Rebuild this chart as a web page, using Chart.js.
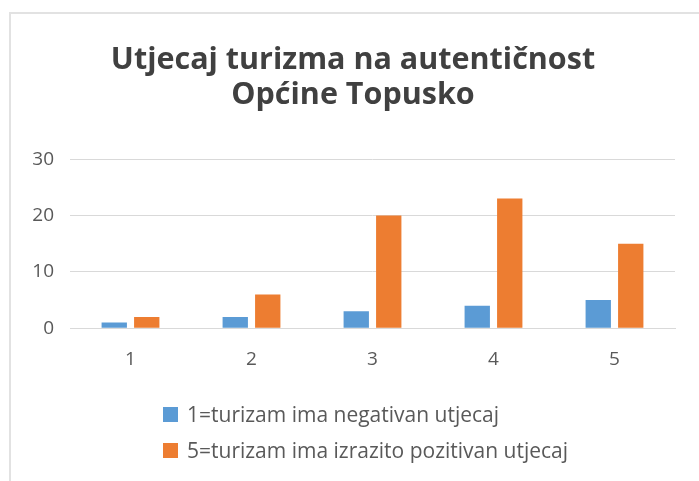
<!DOCTYPE html>
<html>
<head>
<meta charset="utf-8">
<script src="https://cdn.jsdelivr.net/npm/chart.js@4"></script>
<style>
    body { margin: 0; background: #fff; }
    #wrap { position: relative; width: 699px; height: 481px; overflow: hidden; }
    #frame { position: absolute; left: 9px; top: 12px; width: 720px; height: 500px;
             border-left: 2px solid #e2e2e2; border-top: 2px solid #e2e2e2; }
    #chart { position: absolute; left: 0; top: 0; }
    #legend { position: absolute; left: 163px; top: 396px; font-family: "Open Sans", sans-serif;
              font-size: 21px; color: #595959; }
    #legend div { height: 36px; display: flex; align-items: center; }
    #legend span.box { width: 15px; height: 15px; display: inline-block; margin-right: 9px; }
</style>
</head>
<body>
<div id="wrap">
    <div id="frame"></div>
    <canvas id="chart" width="699" height="481"></canvas>
    <div id="legend"></div>
</div>
<script>
// kategorije (ocjena 1-5)
const ocjene = ["1", "2", "3", "4", "5"];

// serije
const negativan = [1, 2, 3, 4, 5];
const pozitivan = [2, 6, 20, 23, 15];

const nazivi = ["1=turizam ima negativan utjecaj", "5=turizam ima izrazito pozitivan utjecaj"];
const boje = ["#5b9bd5", "#ed7d31"];

const naslov = ["Utjecaj turizma na autentičnost", "Općine Topusko"];

const chart = new Chart(document.getElementById("chart"), {
    type: "bar",
    data: {
        labels: ocjene,
        datasets: [
            {
                label: nazivi[0],
                data: negativan,
                backgroundColor: boje[0],
                categoryPercentage: 0.537,
                barPercentage: 0.78,
            },
            {
                label: nazivi[1],
                data: pozitivan,
                backgroundColor: boje[1],
                categoryPercentage: 0.537,
                barPercentage: 0.78,
            }
        ]
    },
    options: {
        responsive: false,
        animation: false,
        layout: { padding: { left: 31, right: 24, top: 11, bottom: 90 } },
        plugins: {
            legend: { display: false },
            tooltip: { enabled: false },
            title: {
                display: true,
                text: naslov,
                color: "#404040",
                font: { family: "Open Sans", size: 30.5, weight: "bold", lineHeight: 1.15 },
                padding: { top: 32, bottom: 46 }
            }
        },
        scales: {
            x: {
                grid: { display: false, drawTicks: false },
                border: { color: "#d9d9d9", width: 1 },
                ticks: { color: "#595959", font: { family: "Open Sans", size: 19 }, padding: 20 }
            },
            y: {
                min: 0,
                max: 30,
                afterFit: (scale) => { scale.width = 39; },
                border: { display: false },
                grid: { color: "#d9d9d9", drawTicks: false },
                ticks: { stepSize: 10, color: "#595959", font: { family: "Open Sans", size: 19 }, padding: 16 }
            }
        }
    }
});

// legenda jedna ispod druge
const leg = document.getElementById("legend");
chart.data.datasets.forEach(ds => {
    const row = document.createElement("div");
    row.innerHTML = '<span class="box" style="background:' + ds.backgroundColor + '"></span>' + ds.label;
    leg.appendChild(row);
});
</script>
</body>
</html>
